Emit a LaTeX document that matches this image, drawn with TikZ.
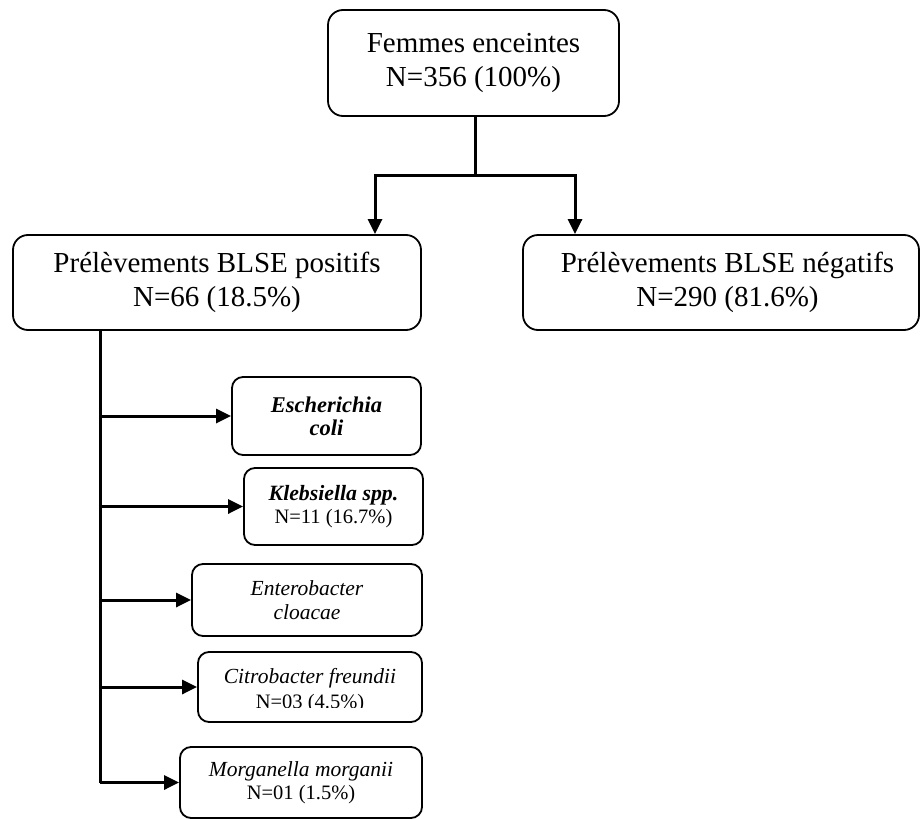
\documentclass[tikz,border=0pt]{standalone}
\usepackage{fontspec}
\setmainfont{Liberation Serif}
\usetikzlibrary{arrows.meta}
\newcommand{\itsz}{\fontsize{21.5}{23.5}\selectfont\itshape}
\begin{document}
\begin{tikzpicture}[x=1pt,y=-1pt,
  bigbox/.style={draw,line width=1.8pt,rounded corners=15pt,align=center,inner sep=0pt,
    font=\fontsize{29}{34}\selectfont},
  bigtext/.style={align=center,inner sep=0pt,font=\fontsize{29}{34}\selectfont},
  smallbox/.style={draw,line width=1.8pt,rounded corners=11pt,align=center,inner sep=0pt,
    font=\fontsize{20.5}{23.5}\selectfont},
  conn/.style={line width=3pt},
  arr/.style={line width=3pt,-{Triangle[length=15pt,width=14pt]}}]
\useasboundingbox (0,0) rectangle (921,819);
\node[bigbox,minimum width=291pt,minimum height=106pt] (top) at (473.5,63)
  {Femmes enceintes\\N=356 (100\%)};
\node[bigbox,minimum width=408pt,minimum height=95pt] (pos) at (217,282.5)
  {Prélèvements BLSE positifs\\N=66 (18.5\%)};
\node[bigbox,minimum width=396pt,minimum height=95pt] (neg) at (721,282.5) {};
\node[bigtext] (negtext) at (727.5,282.5)
  {Prélèvements BLSE négatifs\\N=290 (81.6\%)};
\node[smallbox,minimum width=189pt,minimum height=78pt,font=\fontsize{22.5}{23}\selectfont\bfseries\itshape] (ecoli) at (326.5,416)
  {Escherichia\\coli};
\node[smallbox,minimum width=179pt,minimum height=77pt] (kleb) at (333.5,506.5)
  {{\fontsize{21.8}{23.5}\selectfont\bfseries\itshape Klebsiella spp.}\\N=11 (16.7\%)};
\node[smallbox,minimum width=230pt,minimum height=72pt,font=\itsz] (entero) at (307,600)
  {Enterobacter\\cloacae};
\node[smallbox,minimum width=224pt,minimum height=70pt] (citro) at (310,687) {};
\begin{scope}
  \clip (198,640) rectangle (422,707);
  \node[align=center,inner sep=0pt,font=\fontsize{20.5}{25}\selectfont] (citrotext) at (310,691)
    {{\itsz Citrobacter freundii}\\N=03 (4.5\%)};
\end{scope}
\node[smallbox,minimum width=242pt,minimum height=71pt] (morgan) at (301,782.5)
  {{\itsz Morganella morganii}\\N=01 (1.5\%)};
% top split
\coordinate (jn) at (475,175);
\coordinate (jl) at (375,175);
\coordinate (jr) at (575,175);
\draw[conn] (top.south -| jn) -- (jn);
\draw[arr] (jn) -| (pos.north -| jl);
\draw[arr] (jn) -| (neg.north -| jr);
% trunk
\coordinate (tr) at (100,330);
\draw[conn] (pos.south -| tr) -- (morgan.west -| tr);
\draw[arr] (ecoli.west -| tr) -- (ecoli.west);
\draw[arr] (kleb.west -| tr) -- (kleb.west);
\draw[arr] (entero.west -| tr) -- (entero.west);
\draw[arr] (citro.west -| tr) -- (citro.west);
\draw[arr] (morgan.west -| tr) -- (morgan.west);
\end{tikzpicture}
\end{document}
